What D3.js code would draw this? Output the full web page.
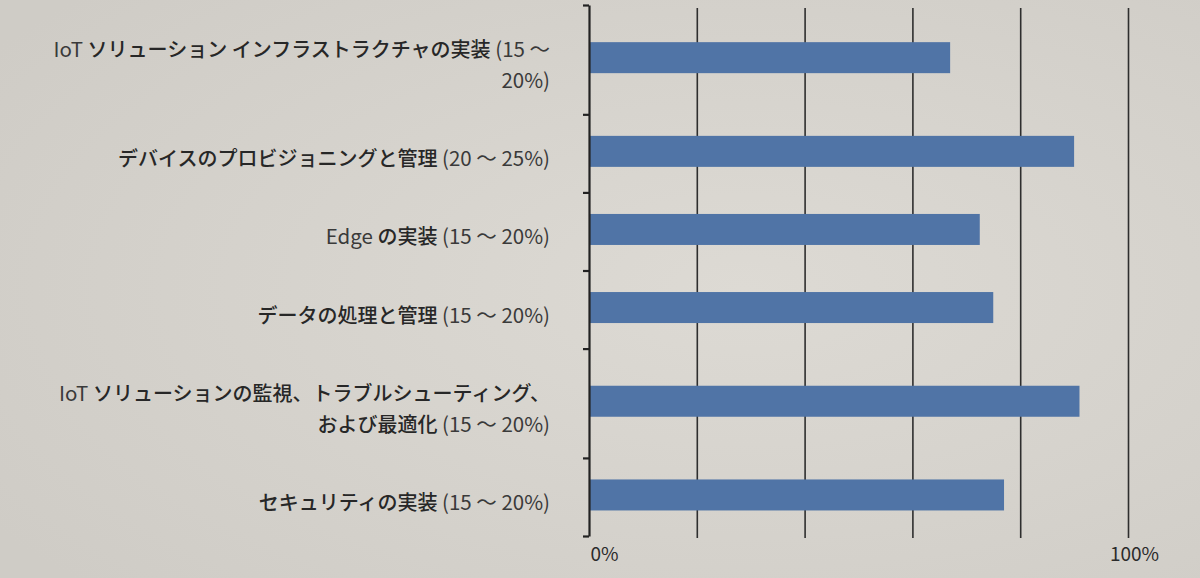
<!DOCTYPE html>
<html>
<head>
<meta charset="utf-8">
<script src="https://cdn.jsdelivr.net/npm/d3@7"></script>
<style>
  html, body { margin: 0; padding: 0; background: #d6d3cd; }
  svg { display: block; }
</style>
</head>
<body>
<svg id="chart" width="1200" height="578"></svg>
<script>
// ---- data ----
const categories = [
  ["IoT ソリューション インフラストラクチャの実装 (15 ～", "20%)"],
  ["デバイスのプロビジョニングと管理 (20 ～ 25%)"],
  ["Edge の実装 (15 ～ 20%)"],
  ["データの処理と管理 (15 ～ 20%)"],
  ["IoT ソリューションの監視、トラブルシューティング、", "および最適化 (15 ～ 20%)"],
  ["セキュリティの実装 (15 ～ 20%)"]
];
const values = [67, 90, 72.5, 75, 91, 77];
const gridValues = [20, 40, 60, 80, 100];
const xTickValues = [0, 100];
const xTickLabels = ["0%", "100%"];

// ---- layout ----
const W = 1200, H = 578;
const x0 = 589, x1 = 1128, yTop = 5, yBot = 536;
const barH = 31, lineH = 31;

const svg = d3.select("#chart");

// background with soft photo-like shading
const defs = svg.append("defs");
const rg = defs.append("radialGradient").attr("id", "bg")
  .attr("cx", "0.62").attr("cy", "0.5").attr("r", "0.75");
rg.append("stop").attr("offset", "0%").attr("stop-color", "#dddad4");
rg.append("stop").attr("offset", "100%").attr("stop-color", "#cfccc6");
svg.append("rect").attr("width", W).attr("height", H).attr("fill", "url(#bg)");

const x = d3.scaleLinear().domain([0, 100]).range([x0, x1]);

// weighted vertical bands: two-line labels get a taller band
const weights = categories.map(c => 1 + 0.4 * (c.length - 1));
const cum = [0];
weights.forEach(w => cum.push(cum[cum.length - 1] + w));
const y = d3.scaleLinear().domain([0, cum[cum.length - 1]]).range([yTop, yBot]);
const mid = i => (y(cum[i]) + y(cum[i + 1])) / 2;

const font = "'Noto Sans CJK JP', 'Noto Sans', sans-serif";

// gridlines
svg.append("g")
  .attr("transform", `translate(0,${yBot + 2})`)
  .call(d3.axisBottom(x).tickValues(gridValues).tickSize(-(yBot + 2 - 8)).tickFormat(""))
  .call(g => g.select(".domain").remove())
  .call(g => g.selectAll(".tick line").attr("stroke", "#2e2e2e").attr("stroke-width", 1.6));

// bars
svg.append("g").selectAll("rect")
  .data(values)
  .join("rect")
  .attr("x", x(0))
  .attr("y", (d, i) => mid(i) - barH / 2 - 2)
  .attr("width", d => x(d) - x(0))
  .attr("height", barH)
  .attr("fill", "#5074a6");

// left axis with boundary ticks
const yAxis = d3.axisLeft(y).tickValues(cum).tickSize(6).tickSizeOuter(0).tickFormat("");
svg.append("g")
  .attr("transform", `translate(${x0},0)`)
  .call(yAxis)
  .call(g => g.select(".domain").attr("stroke", "#222").attr("stroke-width", 2.2))
  .call(g => g.selectAll(".tick line").attr("stroke", "#222").attr("stroke-width", 2.2));

// category labels: Japanese runs medium weight, Latin runs regular
const isLatin = ch => /[\x00-\x7F～]/.test(ch);
function runs(t) {
  const out = [];
  for (const ch of t) {
    const lat = isLatin(ch);
    if (out.length && out[out.length - 1].lat === lat) out[out.length - 1].s += ch;
    else out.push({ lat, s: ch });
  }
  return out;
}
const lab = svg.append("g")
  .attr("font-family", font)
  .attr("font-size", 20)
  .attr("text-anchor", "end");
categories.forEach((lines, i) => {
  const c = mid(i) + 4;
  lines.forEach((t, k) => {
    const txt = lab.append("text")
      .attr("x", 550)
      .attr("y", c + (k - (lines.length - 1) / 2) * lineH)
      .attr("dominant-baseline", "central")
      .attr("xml:space", "preserve");
    runs(t).forEach(r => {
      txt.append("tspan")
        .attr("font-weight", r.lat ? 400 : 500)
        .attr("font-size", r.lat ? 20.5 : 20)
        .attr("fill", r.lat ? "#3a3a3a" : "#272727")
        .text(r.s);
    });
  });
});

// x tick labels (0% and 100%)
svg.append("g")
  .attr("transform", `translate(6,${yBot})`)
  .call(d3.axisBottom(x).tickValues(xTickValues).tickSize(0).tickPadding(12)
        .tickFormat((d, i) => xTickLabels[i]))
  .call(g => g.select(".domain").remove())
  .call(g => g.selectAll("text")
    .attr("font-family", font).attr("font-size", 19).attr("fill", "#2b2b2b"))
  .call(g => g.select(".tick text").attr("text-anchor", "start").attr("x", -5));
</script>
</body>
</html>
